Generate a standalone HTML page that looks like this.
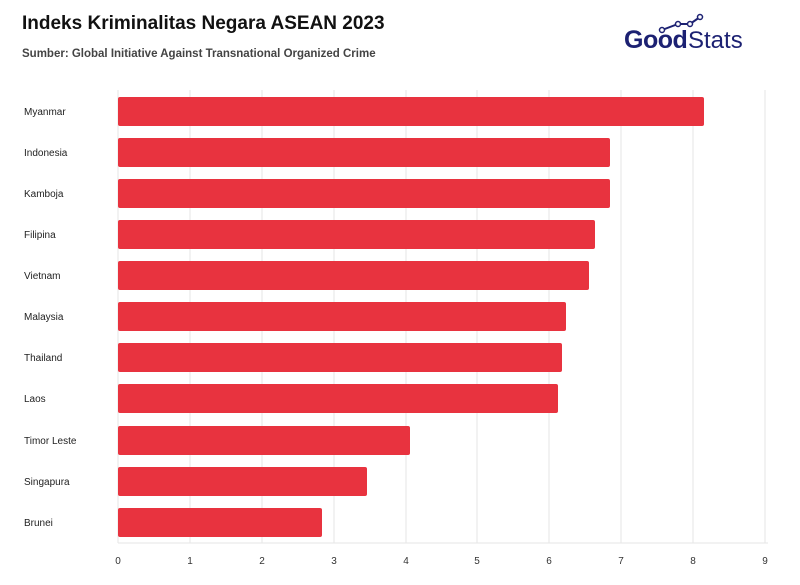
<!DOCTYPE html>
<html><head><meta charset="utf-8"><style>
body{margin:0;background:#fff;width:800px;height:580px;overflow:hidden;font-family:"Liberation Sans",sans-serif}
</style></head><body>
<svg width="800" height="580" xmlns="http://www.w3.org/2000/svg" font-family="Liberation Sans, sans-serif">
<text x="22" y="29" font-size="19" font-weight="bold" fill="#111">Indeks Kriminalitas Negara ASEAN 2023</text>
<text x="22" y="57" font-size="11.5" font-weight="bold" fill="#444">Sumber: Global Initiative Against Transnational Organized Crime</text>
<g>
<text x="624" y="48" font-size="25" font-weight="bold" fill="#1c2172" letter-spacing="-0.5">Good</text>
<text x="688" y="48" font-size="24" fill="#1c2172">Stats</text>
<polyline points="662,30 678,24 690,24 700,17" fill="none" stroke="#1c2172" stroke-width="2"/>
<circle cx="662" cy="30" r="2.5" fill="#fff" stroke="#1c2172" stroke-width="1.5"/>
<circle cx="678" cy="24" r="2.5" fill="#fff" stroke="#1c2172" stroke-width="1.5"/>
<circle cx="690" cy="24" r="2.5" fill="#fff" stroke="#1c2172" stroke-width="1.5"/>
<circle cx="700" cy="17" r="2.5" fill="#fff" stroke="#1c2172" stroke-width="1.5"/>
</g>
<g stroke="#e6e6e6" stroke-width="1">
<line x1="118" y1="90" x2="118" y2="543"/><line x1="190" y1="90" x2="190" y2="543"/><line x1="262" y1="90" x2="262" y2="543"/><line x1="334" y1="90" x2="334" y2="543"/><line x1="406" y1="90" x2="406" y2="543"/><line x1="477" y1="90" x2="477" y2="543"/><line x1="549" y1="90" x2="549" y2="543"/><line x1="621" y1="90" x2="621" y2="543"/><line x1="693" y1="90" x2="693" y2="543"/><line x1="765" y1="90" x2="765" y2="543"/>
<line x1="118" y1="543" x2="768" y2="543"/>
</g>
<g fill="#e8333f">
<rect x="118" y="97" width="586" height="29" rx="2"/>
<rect x="118" y="138" width="492" height="29" rx="2"/>
<rect x="118" y="179" width="492" height="29" rx="2"/>
<rect x="118" y="220" width="477" height="29" rx="2"/>
<rect x="118" y="261" width="471" height="29" rx="2"/>
<rect x="118" y="302" width="448" height="29" rx="2"/>
<rect x="118" y="343" width="444" height="29" rx="2"/>
<rect x="118" y="384" width="440" height="29" rx="2"/>
<rect x="118" y="426" width="292" height="29" rx="2"/>
<rect x="118" y="467" width="249" height="29" rx="2"/>
<rect x="118" y="508" width="204" height="29" rx="2"/>
</g>
<g font-size="10" fill="#222">
<text x="24" y="115">Myanmar</text><text x="24" y="156">Indonesia</text><text x="24" y="197">Kamboja</text><text x="24" y="238">Filipina</text><text x="24" y="279">Vietnam</text><text x="24" y="320">Malaysia</text><text x="24" y="361">Thailand</text><text x="24" y="402">Laos</text><text x="24" y="444">Timor Leste</text><text x="24" y="485">Singapura</text><text x="24" y="526">Brunei</text>
</g>
<g font-size="10" fill="#333" text-anchor="middle">
<text x="118" y="564">0</text><text x="190" y="564">1</text><text x="262" y="564">2</text><text x="334" y="564">3</text><text x="406" y="564">4</text><text x="477" y="564">5</text><text x="549" y="564">6</text><text x="621" y="564">7</text><text x="693" y="564">8</text><text x="765" y="564">9</text>
</g>
</svg>
</body></html>
